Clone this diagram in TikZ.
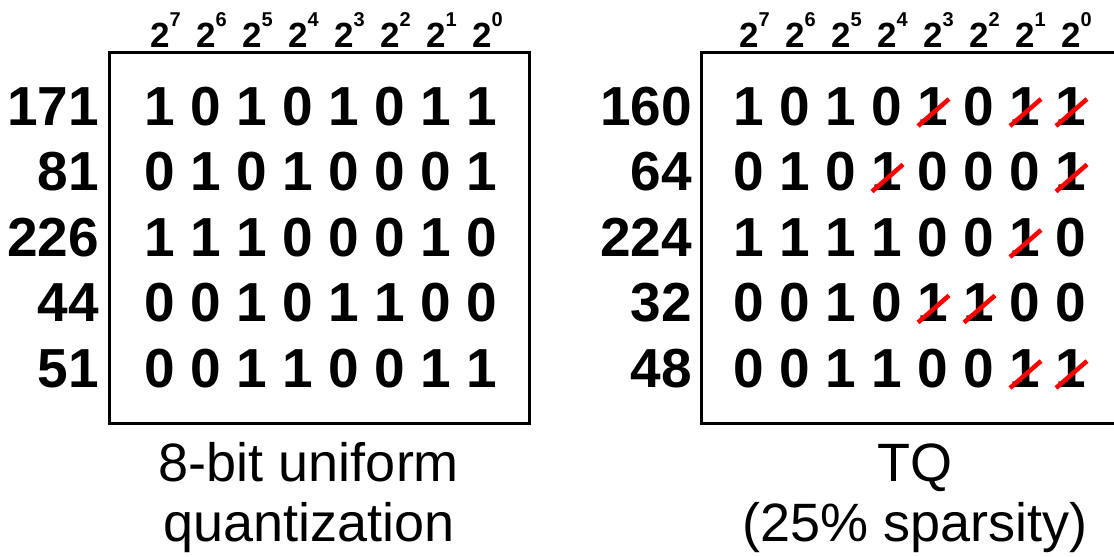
\documentclass[tikz,border=0pt]{standalone}
\usepackage{fontspec}
\setmainfont{Liberation Sans}
\begin{document}
\begin{tikzpicture}[x=1pt,y=-1pt,
  bit/.style={font=\fontsize{55}{55}\selectfont\bfseries, anchor=base, inner sep=0pt},
  val/.style={font=\fontsize{55}{55}\selectfont\bfseries, anchor=base east, inner sep=0pt},
  hdr/.style={font=\fontsize{35}{35}\selectfont\bfseries, anchor=base, inner sep=0pt},
  caption/.style={font=\fontsize{54}{60}\selectfont, anchor=base, inner sep=0pt},
  frame/.style={draw=black, line width=3pt},
  strike/.style={draw=red, line width=4.5pt}]
\useasboundingbox (0,0) rectangle (1114,557);
\clip (0,0) rectangle (1114,557);

% frames
\draw[frame] (109.5,52) rectangle (529,423);
\draw[frame] (701.5,52) rectangle (1125,423);

% column headers (powers of two)
\foreach \e [count=\c] in {7,6,5,4,3,2,1,0} {
  \node[hdr] (LH-\c) at ({160+46*(\c-1)},47)
    {2\rlap{\raisebox{21pt}{\fontsize{20}{20}\selectfont\bfseries\e}}};
  \node[hdr] (RH-\c) at ({749+46*(\c-1)},47)
    {2\rlap{\raisebox{21pt}{\fontsize{20}{20}\selectfont\bfseries\e}}};
}

% row values
\foreach \v [count=\r] in {171,81,226,44,51}
  \node[val] (LV-\r) at (99,{125+65.5*(\r-1)}) {\v};
\foreach \v [count=\r] in {160,64,224,32,48}
  \node[val] (RV-\r) at (692,{125+65.5*(\r-1)}) {\v};

% 8-bit uniform quantization
\foreach \bits [count=\r] in {{1,0,1,0,1,0,1,1},{0,1,0,1,0,0,0,1},{1,1,1,0,0,0,1,0},{0,0,1,0,1,1,0,0},{0,0,1,1,0,0,1,1}}
  \foreach \b [count=\c] in \bits
    \node[bit] (L-\r-\c) at ({160+46*(\c-1)},{125+65.5*(\r-1)}) {\b};

% TQ bits
\foreach \bits [count=\r] in {{1,0,1,0,1,0,1,1},{0,1,0,1,0,0,0,1},{1,1,1,1,0,0,1,0},{0,0,1,0,1,1,0,0},{0,0,1,1,0,0,1,1}}
  \foreach \b [count=\c] in \bits
    \node[bit] (R-\r-\c) at ({749+46*(\c-1)},{125+65.5*(\r-1)}) {\b};

% pruned bits
\foreach \r/\c in {1/5,1/7,1/8,2/4,2/8,3/7,4/5,4/6,5/7,5/8}
  \draw[strike] (R-\r-\c.base) ++(-15,1) -- ++(31,-27);

% captions
\node[caption] (capL1) at (309,481) {8-bit uniform};
\node[caption] (capL2) at (309,541) {quantization};
\node[caption] (capR1) at (915,481) {TQ};
\node[caption] (capR2) at (915,541) {(25\% sparsity)};
\end{tikzpicture}
\end{document}
